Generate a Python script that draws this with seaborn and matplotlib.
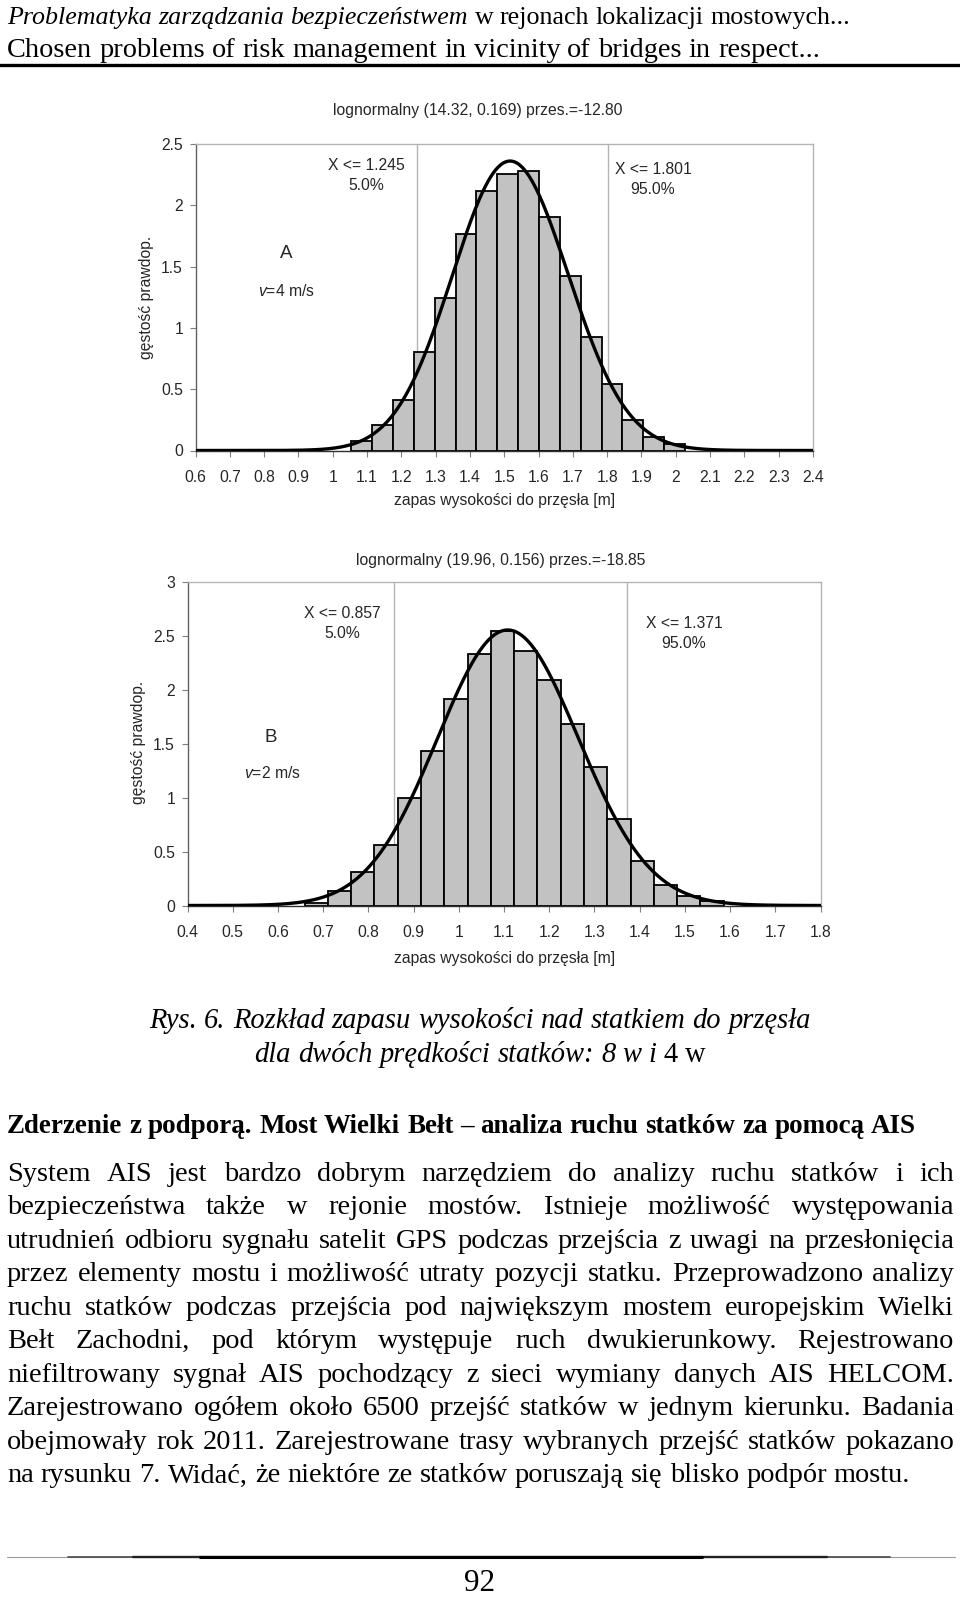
import numpy as np
import pandas as pd
import matplotlib
matplotlib.use("Agg")
import matplotlib.pyplot as plt
import seaborn as sns

# ---------------- data ----------------
# Chart A : v = 4 m/s
a_bin_edges = [1.054, 1.115, 1.176, 1.236, 1.297, 1.358, 1.419, 1.480, 1.540,
               1.601, 1.662, 1.723, 1.784, 1.844, 1.905, 1.966, 2.027]
a_heights = [0.078, 0.207, 0.41, 0.80, 1.243, 1.764, 2.117, 2.253, 2.283,
             1.908, 1.42, 0.928, 0.54, 0.25, 0.114, 0.049]
a_lognorm = (14.32, 0.169, -12.80)          # mean, std, shift (from chart title)
a_percentiles = [1.245, 1.801]
a_perc_labels = [("X <= 1.245", "5.0%"), ("X <= 1.801", "95.0%")]
a_title = "lognormalny (14.32, 0.169) przes.=-12.80"
a_xticks = [0.6, 0.7, 0.8, 0.9, 1.0, 1.1, 1.2, 1.3, 1.4, 1.5, 1.6, 1.7, 1.8,
            1.9, 2.0, 2.1, 2.2, 2.3, 2.4]
a_xticklabels = ["0.6", "0.7", "0.8", "0.9", "1", "1.1", "1.2", "1.3", "1.4",
                 "1.5", "1.6", "1.7", "1.8", "1.9", "2", "2.1", "2.2", "2.3", "2.4"]
a_yticks = [0, 0.5, 1, 1.5, 2, 2.5]
a_yticklabels = ["0", "0.5", "1", "1.5", "2", "2.5"]
a_letter, a_speed = "A", "$v$=4 m/s"

# Chart B : v = 2 m/s
b_bin_edges = [0.659, 0.7105, 0.762, 0.8135, 0.865, 0.9165, 0.968, 1.0195, 1.071,
               1.1225, 1.174, 1.2255, 1.277, 1.3285, 1.380, 1.4315, 1.483, 1.5345, 1.586]
b_heights = [0.024, 0.13, 0.315, 0.56, 1.00, 1.438, 1.921, 2.338, 2.552,
             2.363, 2.091, 1.686, 1.284, 0.801, 0.415, 0.19, 0.088, 0.04]
b_lognorm = (19.96, 0.156, -18.85)
b_percentiles = [0.857, 1.371]
b_perc_labels = [("X <= 0.857", "5.0%"), ("X <= 1.371", "95.0%")]
b_title = "lognormalny (19.96, 0.156) przes.=-18.85"
b_xticks = [0.4, 0.5, 0.6, 0.7, 0.8, 0.9, 1.0, 1.1, 1.2, 1.3, 1.4, 1.5, 1.6, 1.7, 1.8]
b_xticklabels = ["0.4", "0.5", "0.6", "0.7", "0.8", "0.9", "1", "1.1", "1.2",
                 "1.3", "1.4", "1.5", "1.6", "1.7", "1.8"]
b_yticks = [0, 0.5, 1, 1.5, 2, 2.5, 3]
b_yticklabels = ["0", "0.5", "1", "1.5", "2", "2.5", "3"]
b_letter, b_speed = "B", "$v$=2 m/s"

x_label = "zapas wysokości do przęsła [m]"
y_label = "gęstość prawdop."

header_line1 = [("Problematyka zarządzania bezpieczeństwem", "italic"),
                ("w rejonach lokalizacji mostowych...", "normal")]
header_line2 = "Chosen problems of risk management in vicinity of bridges in respect..."
caption_line1 = "Rys. 6. Rozkład zapasu wysokości nad statkiem do przęsła"
caption_line2 = [("dla dwóch prędkości statków: 8 w i", "italic"), ("4 w", "normal")]
heading = "Zderzenie z podporą. Most Wielki Bełt – analiza ruchu statków za pomocą AIS"
body_lines = [
    "System AIS jest bardzo dobrym narzędziem do analizy ruchu statków i ich",
    "bezpieczeństwa także w rejonie mostów. Istnieje możliwość występowania",
    "utrudnień odbioru sygnału satelit GPS podczas przejścia z uwagi na przesłonięcia",
    "przez elementy mostu i możliwość utraty pozycji statku. Przeprowadzono analizy",
    "ruchu statków podczas przejścia pod największym mostem europejskim Wielki",
    "Bełt Zachodni, pod którym występuje ruch dwukierunkowy. Rejestrowano",
    "niefiltrowany sygnał AIS pochodzący z sieci wymiany danych AIS HELCOM.",
    "Zarejestrowano ogółem około 6500 przejść statków w jednym kierunku. Badania",
    "obejmowały rok 2011. Zarejestrowane trasy wybranych przejść statków pokazano",
    "na rysunku 7. Widać, że niektóre ze statków poruszają się blisko podpór mostu.",
]
page_number = "92"

# ---------------- style ----------------
sns.set_theme(style="white")
plt.rcParams["font.family"] = ["Liberation Sans", "DejaVu Sans"]
plt.rcParams["mathtext.fontset"] = "custom"
plt.rcParams["mathtext.it"] = "Liberation Sans:italic"
plt.rcParams["mathtext.rm"] = "Liberation Sans"
SERIF = ["Liberation Serif", "DejaVu Serif"]
BAR = "#c2c2c2"
GRID = "#b4b4b4"
FS = 11.3

W, H = 960, 1598
fig = plt.figure(figsize=(W / 100, H / 100), dpi=100)
fig.patch.set_facecolor("white")
renderer = fig.canvas.get_renderer()


def fx(x):
    return x / W


def fy(y):
    return 1 - y / H


def lognorm_pdf(xs, mean, sd, shift):
    s2 = np.log(1 + (sd / mean) ** 2)
    mu = np.log(mean) - s2 / 2
    y = xs - shift
    return np.exp(-(np.log(y) - mu) ** 2 / (2 * s2)) / (y * np.sqrt(2 * np.pi * s2))


def chart(box, edges, heights, lognorm, percs, perc_labels, title, xticks, xtl,
          yticks, ytl, letter, speed, pos):
    L, R, T, B = box
    ax = fig.add_axes([fx(L), fy(B), (R - L) / W, (B - T) / H])
    xlim = (xticks[0], xticks[-1])
    ylim = (yticks[0], yticks[-1])

    def axc(px, py):
        return (px - L) / (R - L), (B - py) / (B - T)

    for p in percs:
        ax.axvline(p, color=GRID, lw=1.0, zorder=0)
    e = np.asarray(edges, dtype=float)
    df = pd.DataFrame({"x": (e[:-1] + e[1:]) / 2, "w": heights})
    sns.histplot(data=df, x="x", weights="w", bins=list(e), ax=ax, color=BAR,
                 edgecolor="black", linewidth=1.3, alpha=1, stat="count", zorder=2)
    xs = np.linspace(xlim[0], xlim[1], 800)
    dfl = pd.DataFrame({"x": xs, "y": lognorm_pdf(xs, *lognorm)})
    sns.lineplot(data=dfl, x="x", y="y", ax=ax, color="black", linewidth=2.4, zorder=3)
    ax.set_xlim(*xlim)
    ax.set_ylim(*ylim)
    ax.set_xticks(xticks)
    ax.set_xticklabels(xtl)
    ax.set_yticks(yticks)
    ax.set_yticklabels(ytl)
    ax.tick_params(axis="x", direction="out", length=4, width=0.8, color="#808080",
                   labelsize=FS, pad=10, bottom=True)
    ax.tick_params(axis="y", direction="out", length=4, width=0.8, color="#808080",
                   labelsize=FS, pad=5, left=True)
    ax.spines["left"].set_color("#606060")
    ax.spines["bottom"].set_color("#303030")
    for s in ["left", "bottom"]:
        ax.spines[s].set_linewidth(1.0)
    for s in ["top", "right"]:
        ax.spines[s].set_color(GRID)
        ax.spines[s].set_linewidth(1.0)
    ax.grid(False)

    ax.set_xlabel(x_label, fontsize=FS)
    ax.xaxis.set_label_coords(*axc(*pos["xlabel"]))
    ax.xaxis.label.set_va("center")
    ax.set_ylabel(y_label, fontsize=FS)
    ax.yaxis.set_label_coords(*axc(*pos["ylabel"]))
    ax.yaxis.label.set_va("center")
    tx, ty = axc(*pos["title"])
    ax.set_title(title, fontsize=FS, x=tx, y=ty, va="center", ha="center", pad=0)

    for (l1, l2), (px, py1, py2) in zip(perc_labels, pos["perc"]):
        ax.text(*axc(px, py1), l1, transform=ax.transAxes, ha="center", va="center", fontsize=FS)
        ax.text(*axc(px, py2), l2, transform=ax.transAxes, ha="center", va="center", fontsize=FS)
    ax.text(*axc(*pos["letter"]), letter, transform=ax.transAxes, ha="center",
            va="center", fontsize=13.5)
    ax.text(*axc(*pos["speed"]), speed, transform=ax.transAxes, ha="center",
            va="center", fontsize=FS)
    return ax


chart((195.5, 813, 144, 450.5), a_bin_edges, a_heights, a_lognorm, a_percentiles,
      a_perc_labels, a_title, a_xticks, a_xticklabels, a_yticks, a_yticklabels,
      a_letter, a_speed,
      dict(xlabel=(505, 501), ylabel=(147, 297), title=(478, 110),
           perc=[(366, 166, 186), (653, 170, 189)], letter=(286, 253), speed=(286, 291)))

chart((187.5, 820.5, 582.3, 905.5), b_bin_edges, b_heights, b_lognorm, b_percentiles,
      b_perc_labels, b_title, b_xticks, b_xticklabels, b_yticks, b_yticklabels,
      b_letter, b_speed,
      dict(xlabel=(505, 958), ylabel=(138, 742), title=(501, 560),
           perc=[(342, 613, 633), (684, 623, 643)], letter=(271, 737), speed=(272, 773)))


# ---------------- page text ----------------
def measure(s, size, style="normal", weight="normal"):
    t = fig.text(0, 0, s, fontsize=size, fontstyle=style, fontweight=weight, family=SERIF)
    w = t.get_window_extent(renderer).width
    t.remove()
    return w


def words_of(segments, weight="normal"):
    out = []
    for text, style in segments:
        for w in text.split():
            out.append((w, style, weight))
    return out


def natural(words, size):
    ws = [measure(w, size, st, wt) for w, st, wt in words]
    wt0 = words[0][2]
    sp = measure("a a", size, "normal", wt0) - measure("aa", size, "normal", wt0)
    return sum(ws) + sp * (len(words) - 1), ws, sp


def fit(words, target, size0=20.0):
    w, _, _ = natural(words, size0)
    return size0 * target / w


def draw(words, size, y_center, x_left=None, justify=None, center=None):
    total, ws, sp = natural(words, size)
    gap = sp
    if justify is not None and len(words) > 1:
        gap = (justify - sum(ws)) / (len(words) - 1)
        total = justify
    if center is not None:
        x = center - total / 2
    else:
        x = x_left
    base = y_center + 0.30 * size * 100 / 72
    for (w, st, wt), wd in zip(words, ws):
        fig.text(fx(x), fy(base), w, fontsize=size, fontstyle=st, fontweight=wt,
                 family=SERIF, ha="left", va="baseline", color="black")
        x += wd + gap


# header
h1 = words_of(header_line1)
h2 = words_of([(header_line2, "normal")])
draw(h1, fit(h1, 844), 16, x_left=7)
draw(h2, fit(h2, 814), 48.5, x_left=7)
fig.add_artist(plt.Line2D([0, 1], [fy(65), fy(65)], transform=fig.transFigure,
                          color="black", lw=2.4))

# caption
c1 = words_of([(caption_line1, "italic")])
c2 = words_of(caption_line2)
s_c = fit(c1, 663)
draw(c1, s_c, 1019, center=480)
draw(c2, s_c, 1053, center=480)

# heading
hd = words_of([(heading, "normal")], weight="bold")
draw(hd, fit(hd, 910), 1125, x_left=7)

# body
body_words = [words_of([(ln, "normal")]) for ln in body_lines]
s_b = fit(body_words[-1], 903)
for i, wl in enumerate(body_words):
    yc = 1172 + 33.55 * i
    if i < len(body_words) - 1:
        draw(wl, s_b, yc, x_left=7, justify=947)
    else:
        draw(wl, s_b, yc, x_left=7)

# footer rule
for (x0, x1, c, lw) in [(7, 955, "#9a9a9a", 0.8), (68, 890, "#555555", 1.3),
                        (133, 827, "#222222", 1.7), (200, 702, "black", 2.2)]:
    fig.add_artist(plt.Line2D([fx(x0), fx(x1)], [fy(1557), fy(1557)],
                              transform=fig.transFigure, color=c, lw=lw))
draw([(page_number, "normal", "normal")], s_b * 1.1, 1582, center=480)

fig.savefig("out.png", dpi=100, facecolor="white")
